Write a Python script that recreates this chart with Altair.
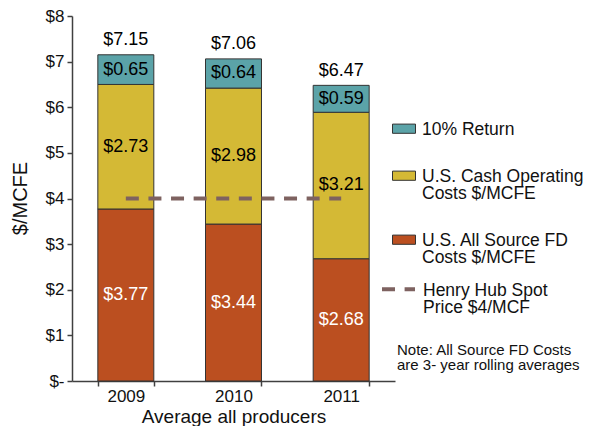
import altair as alt
import pandas as pd

# ---------------- data ----------------
years = ["2009", "2010", "2011"]
all_source_fd = [3.77, 3.44, 2.68]
cash_operating = [2.73, 2.98, 3.21]
return_10pct = [0.65, 0.64, 0.59]
totals = [7.15, 7.06, 6.47]
series_names = ["10% Return", "U.S. Cash Operating|Costs $/MCFE", "U.S. All Source FD|Costs $/MCFE"]
series_colors = ["#5ba3a8", "#d4b935", "#bb4f20"]
henry_hub_years = ["2009", "2011"]
henry_hub_price = [4.0, 4.0]
henry_hub_label = "Henry Hub Spot|Price $4/MCF"
y_tick_values = [0, 1, 2, 3, 4, 5, 6, 7, 8]
note_lines = ["Note: All Source FD Costs", "are 3- year rolling averages"]

rows = []
stack_series = [(series_names[2], all_source_fd), (series_names[1], cash_operating), (series_names[0], return_10pct)]
for i, yr in enumerate(years):
    for order, (name, vals) in enumerate(stack_series):
        rows.append({"year": yr, "series": name, "value": vals[i], "stack_order": order})
df = pd.DataFrame(rows)
tot_df = pd.DataFrame({"year": years, "total": totals})
hh_df = pd.DataFrame({"year": henry_hub_years, "price": henry_hub_price,
                      "series": [henry_hub_label] * len(henry_hub_years)})
note_df = pd.DataFrame({"k": [0]})

FONT = "Liberation Sans"
INK = "#111111"
AX = "#404040"

x_scale = alt.Scale(domain=years, paddingInner=0.48, paddingOuter=0.24)
y_scale = alt.Scale(domain=[0, 8], nice=False)

x_axis = alt.Axis(title="Average all producers", labelAngle=0, tickBand="extent",
                  labelFontSize=17, labelPadding=2, tickSize=5,
                  titleFontSize=19, titleFontWeight="normal", titleY=35,
                  titleBaseline="middle")
y_axis = alt.Axis(title="$/MCFE", values=y_tick_values, tickSize=5, labelPadding=3,
                  labelFontSize=17,
                  labelExpr="datum.value == 0 ? '$-' : '$' + datum.value",
                  titleFontSize=20, titleFontWeight="normal", titleX=-52, titleY=182,
                  titleBaseline="middle")

x_enc = alt.X("year:N", scale=x_scale, sort=years, axis=x_axis)


def y_enc(field, **kw):
    return alt.Y(field, scale=y_scale, axis=y_axis, **kw)


bars = alt.Chart(df).mark_bar(stroke="#333333", strokeWidth=1).encode(
    x=x_enc,
    y=y_enc("value:Q", stack="zero"),
    color=alt.Color("series:N",
                    scale=alt.Scale(domain=series_names, range=series_colors),
                    legend=alt.Legend(title=None, orient="none", legendX=320, legendY=93,
                                      symbolType="M-1,0.27H1V1.07H-1Z", symbolSize=529,
                                      symbolStrokeColor="#333333", symbolStrokeWidth=1,
                                      labelFont=FONT, labelFontSize=17.5, labelColor=INK,
                                      labelExpr="split(datum.label, '|')",
                                      labelBaseline="top", labelLimit=300, labelOffset=6,
                                      rowPadding=17)),
    order=alt.Order("stack_order:Q", sort="ascending"),
)

seg = alt.Chart(df).transform_stack(
    stack="value", as_=["y0", "y1"], groupby=["year"],
    sort=[alt.SortField("stack_order", order="ascending")]
).transform_calculate(
    mid="(datum.y0 + datum.y1) / 2",
    label="'$' + format(datum.value, '.2f')"
).mark_text(font=FONT, fontSize=18).encode(
    x=x_enc,
    y=y_enc("mid:Q"),
    text="label:N",
    color=alt.condition("datum.stack_order == 0", alt.value("white"), alt.value("black")),
)

tot = alt.Chart(tot_df).transform_calculate(
    label="'$' + format(datum.total, '.2f')"
).mark_text(font=FONT, fontSize=18, baseline="bottom", dy=-6, color="black").encode(
    x=x_enc,
    y=y_enc("total:Q"),
    text="label:N",
)

hh = alt.Chart(hh_df).mark_line(color="#7e6260", strokeWidth=4).encode(
    x=x_enc,
    y=y_enc("price:Q"),
    strokeDash=alt.StrokeDash("series:N",
                              scale=alt.Scale(domain=[henry_hub_label], range=[[13, 9.6]]),
                              legend=alt.Legend(title=None, orient="none", legendX=308, legendY=247,
                                                symbolType="M-1,0.47L1,0.47", symbolSize=1089,
                                                symbolStrokeColor="#7e6260", symbolStrokeWidth=4,
                                                symbolFillColor="transparent", symbolDash=[13, 7],
                                                labelFont=FONT, labelFontSize=17.5, labelColor=INK,
                                                labelExpr="split(datum.label, '|')",
                                                labelBaseline="top", labelLimit=300, labelOffset=6)),
)

note = alt.Chart(note_df).mark_text(
    text=note_lines, font=FONT, fontSize=15, lineHeight=15, align="left", baseline="top",
    color=INK
).encode(x=alt.value(325), y=alt.value(327))

chart = alt.layer(bars, seg, tot, hh, note).properties(
    width=323, height=365,
    padding={"left": 64, "top": 8, "right": 189, "bottom": 45},
    autosize=alt.AutoSizeParams(type="none"),
).configure(
    style={"guide-label": {"lineHeight": 17}}
).configure_view(stroke=None).configure_axis(
    labelFont=FONT, titleFont=FONT, labelColor=INK, titleColor=INK,
    domainColor=AX, tickColor=AX, grid=False, domainWidth=1.5, tickWidth=1.5
)

chart.save("out.html", embed_options={"renderer": "svg", "actions": False})
